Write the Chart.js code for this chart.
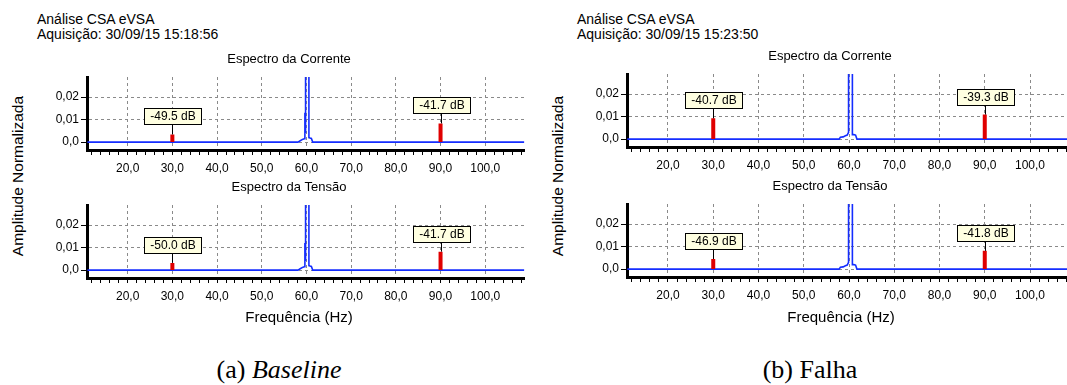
<!DOCTYPE html>
<html lang="pt">
<head>
<meta charset="utf-8">
<title>Análise CSA eVSA</title>
<script src="https://cdn.jsdelivr.net/npm/chart.js@4.4.1/dist/chart.umd.min.js"></script>
<style>
	html, body { margin: 0; padding: 0; background: #fff; }
	body {
		width: 1067px; height: 385px; position: relative; overflow: hidden;
		font-family: "Liberation Sans", Arial, sans-serif; color: #000;
	}
	.panel { position: absolute; top: 0; width: 540px; height: 385px; }
	.header { position: absolute; left: 37px; top: 12px; font-size: 14px; line-height: 14.5px; white-space: nowrap; }
	.ylabel {
		position: absolute; left: 17.5px; top: 176px; font-size: 15.5px; white-space: nowrap;
		transform: translate(-50%, -50%) rotate(-90deg);
	}
	.xlabel { position: absolute; top: 316px; font-size: 15px; white-space: nowrap; transform: translate(-50%, -50%); }
	canvas { position: absolute; }
	.caption {
		position: absolute; top: 370px; font-family: "Liberation Serif", serif; font-size: 26px;
		white-space: nowrap; transform: translate(-50%, -50%);
	}
</style>
</head>
<body>

<div class="panel" style="left:0">
	<div class="header">Análise CSA eVSA<br>Aquisição: 30/09/15 15:18:56</div>
	<div class="ylabel">Amplitude Normalizada</div>
	<canvas id="baselineCorrente" width="476" height="130" style="left:51px; top:50px"></canvas>
	<canvas id="baselineTensao" width="476" height="130" style="left:51px; top:178px"></canvas>
	<div class="xlabel" style="left:299px">Frequência (Hz)</div>
</div>

<div class="panel" style="left:540px">
	<div class="header">Análise CSA eVSA<br>Aquisição: 30/09/15 15:23:50</div>
	<div class="ylabel">Amplitude Normalizada</div>
	<canvas id="falhaCorrente" width="486" height="130" style="left:47px; top:47px"></canvas>
	<canvas id="falhaTensao" width="486" height="130" style="left:47px; top:177px"></canvas>
	<div class="xlabel" style="left:301px">Frequência (Hz)</div>
</div>

<div class="caption" style="left:279px">(a) <i>Baseline</i></div>
<div class="caption" style="left:810px">(b) Falha</div>

<script>
// Values
const xTickLabels = [20, 30, 40, 50, 60, 70, 80, 90, 100];
const xMinorTicks = [12, 14, 16, 18, 20, 22, 24, 26, 28, 30, 32, 34, 36, 38, 40, 42, 44, 46, 48, 50,
	52, 54, 56, 58, 60, 62, 64, 66, 68, 70, 72, 74, 76, 78, 80, 82, 84, 86, 88, 90,
	92, 94, 96, 98, 100, 102, 104, 106, 108];
const yTickValues = [0, 0.01, 0.02];
const yTickLabels = ["0,0", "0,01", "0,02"];

// harmonics marked with red bars (Hz)
const harmonicFreqs = [30, 90];

// dB labels
const baselineCorrenteDb = [-49.5, -41.7];
const baselineTensaoDb = [-50.0, -41.7];
const falhaCorrenteDb = [-40.7, -39.3];
const falhaTensaoDb = [-46.9, -41.8];

// red bar heights (normalized amplitude)
const baselineCorrenteAmp = [0.0034, 0.0083];
const baselineTensaoAmp = [0.0032, 0.0082];
const falhaCorrenteAmp = [0.0093, 0.0109];
const falhaTensaoAmp = [0.0045, 0.0081];

// spectrum (blue line) around the 60 Hz fundamental
const baselineFreq = [11, 58.1, 58.6, 59.1, 59.5, 59.65, 59.8, 59.95, 60.4, 60.55, 60.8, 61.1, 61.4, 109];
const baselineCorrente = [0, 0, 0.0006, 0.0012, 0.0015, 0.013, 0.004, 1, 1, 0.002, 0.0018, 0.0016, 0, 0];
const baselineTensao = [0, 0, 0.0006, 0.0012, 0.0015, 0.012, 0.004, 1, 1, 0.002, 0.0018, 0.0016, 0, 0];
const falhaFreq = [11, 57.8, 58.1, 58.7, 59.2, 59.6, 59.9, 60.1, 60.65, 60.75, 61.05, 61.45, 61.75, 110];
const falhaCorrente = [0, 0, 0.0008, 0.001, 0.0015, 0.0018, 0.003, 1, 1, 0.002, 0.002, 0.0018, 0, 0];
const falhaTensao = [0, 0, 0.0008, 0.001, 0.0015, 0.0018, 0.003, 1, 1, 0.002, 0.002, 0.0018, 0, 0];

const FONT = '"Liberation Sans", Arial, sans-serif';

function fmtFreq(v) {
	return v.toFixed(1).replace(".", ",");
}

// vertical bars from 0 to the amplitude, split by a null point
function harmonicPoints(amps) {
	const pts = [];
	harmonicFreqs.forEach(function (f, i) {
		if (i > 0) pts.push({ x: f, y: null });
		pts.push({ x: f, y: 0 }, { x: f, y: amps[i] });
	});
	return pts;
}

// yellow dB boxes with a leader line down to the bar
const dbLabelPlugin = {
	id: "dbLabels",
	afterDatasetsDraw(chart, args, opts) {
		const ctx = chart.ctx;
		const xs = chart.scales.x;
		const ys = chart.scales.y;
		ctx.save();
		ctx.font = "12px " + FONT;
		ctx.textAlign = "center";
		ctx.textBaseline = "middle";
		ctx.lineWidth = 1;
		ctx.strokeStyle = "#000";
		opts.db.forEach(function (db, i) {
			const px = Math.round(xs.getPixelForValue(harmonicFreqs[i]));
			const top = ys.getPixelForValue(opts.amps[i]);
			const text = db.toFixed(1) + " dB";
			const w = Math.round(ctx.measureText(text).width) + 12;
			const h = 16;
			const bx = Math.round(px - w / 2) + 0.5;
			const by = Math.round(top - 10 - h) + 0.5;
			ctx.beginPath();
			ctx.moveTo(px + 0.5, by + h);
			ctx.lineTo(px + 0.5, top);
			ctx.stroke();
			ctx.fillStyle = "#ffffe1";
			ctx.fillRect(bx, by, w, h);
			ctx.strokeRect(bx, by, w, h);
			ctx.fillStyle = "#000";
			ctx.fillText(text, bx + w / 2, by + h / 2 + 0.5);
		});
		ctx.restore();
	},
};

function makeChart(id, cfg) {
	new Chart(document.getElementById(id), {
		type: "line",
		data: {
			datasets: [
				{
					data: harmonicPoints(cfg.harmAmp),
					borderColor: "#e00000",
					borderWidth: 4,
					borderCapStyle: "butt",
					pointRadius: 0,
				},
				{
					data: cfg.freq.map(function (f, i) { return { x: f, y: cfg.amp[i] }; }),
					borderColor: "rgb(20, 45, 255)",
					borderWidth: 1.6,
					pointRadius: 0,
					tension: 0,
				},
			],
		},
		options: {
			responsive: false,
			animation: false,
			devicePixelRatio: 1,
			layout: { padding: 0 },
			plugins: {
				legend: { display: false },
				tooltip: { enabled: false },
				title: {
					display: true,
					text: cfg.title,
					color: "#000",
					font: { family: FONT, size: 13, weight: "normal", lineHeight: 1.2 },
					padding: { top: 2, bottom: 9.4 },
				},
				dbLabels: { db: cfg.db, amps: cfg.harmAmp },
			},
			scales: {
				x: {
					type: "linear",
					min: cfg.xMin,
					max: cfg.xMax,
					afterBuildTicks: function (s) {
						s.ticks = xMinorTicks.map(function (v) { return { value: v }; });
					},
					afterFit: function (s) { s.height = 30; },
					ticks: {
						autoSkip: false,
						maxRotation: 0,
						padding: 6,
						color: "#000",
						font: { family: FONT, size: 12 },
						callback: function (v) { return xTickLabels.includes(v) ? fmtFreq(v) : ""; },
					},
					grid: {
						color: function (c) {
							return c.tick && xTickLabels.includes(c.tick.value) ? "#8a8a8a" : "rgba(0,0,0,0)";
						},
						tickColor: "#000",
						tickLength: 5,
						lineWidth: 1,
					},
					border: { color: "#000", width: 3, dash: [3, 3] },
				},
				y: {
					min: -0.0035,
					max: 0.0289,
					afterBuildTicks: function (s) {
						s.ticks = yTickValues.map(function (v) { return { value: v }; });
					},
					afterFit: function (s) { s.width = cfg.yWidth; },
					ticks: {
						padding: 2,
						color: "#000",
						font: { family: FONT, size: 12 },
						callback: function (v) { return yTickLabels[yTickValues.indexOf(v)]; },
					},
					grid: { color: "#8a8a8a", tickColor: "#000", tickLength: 6, lineWidth: 1 },
					border: { color: "#000", width: 3, dash: [3, 3] },
				},
			},
		},
		plugins: [dbLabelPlugin],
	});
}

makeChart("baselineCorrente", {
	title: "Espectro da Corrente", freq: baselineFreq, amp: baselineCorrente,
	harmAmp: baselineCorrenteAmp, db: baselineCorrenteDb, xMin: 10.9, xMax: 108.7, yWidth: 36,
});
makeChart("baselineTensao", {
	title: "Espectro da Tensão", freq: baselineFreq, amp: baselineTensao,
	harmAmp: baselineTensaoAmp, db: baselineTensaoDb, xMin: 10.9, xMax: 108.7, yWidth: 36,
});
makeChart("falhaCorrente", {
	title: "Espectro da Corrente", freq: falhaFreq, amp: falhaCorrente,
	harmAmp: falhaCorrenteAmp, db: falhaCorrenteDb, xMin: 10.94, xMax: 109.5, yWidth: 40,
});
makeChart("falhaTensao", {
	title: "Espectro da Tensão", freq: falhaFreq, amp: falhaTensao,
	harmAmp: falhaTensaoAmp, db: falhaTensaoDb, xMin: 10.94, xMax: 109.5, yWidth: 40,
});
</script>
</body>
</html>
